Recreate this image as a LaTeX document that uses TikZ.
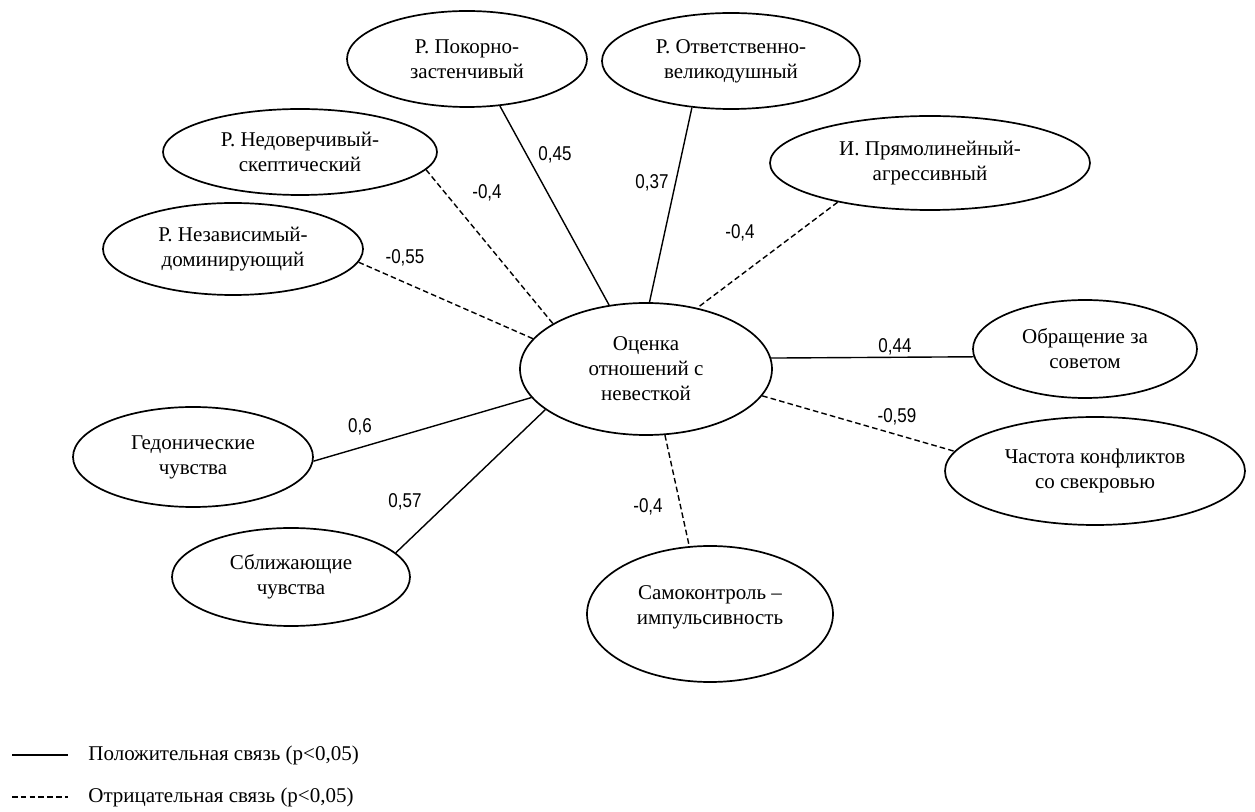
\documentclass[tikz,border=0pt]{standalone}
\usepackage{fontspec}
\setmainfont{Liberation Serif}
\newfontfamily\labfont[FakeStretch=0.85]{Liberation Sans}
\usetikzlibrary{shapes.geometric}
\begin{document}
\begin{tikzpicture}[x=0.5pt,y=-0.5pt,
  oval/.style={draw, ellipse, line width=0.85pt, inner sep=0pt, align=center,
    font=\fontsize{10.5}{12.5}\selectfont},
  txt/.style={inner sep=0pt, align=center, font=\fontsize{10.5}{12.5}\selectfont},
  posline/.style={line width=0.7pt},
  negline/.style={line width=0.7pt, dash pattern=on 2.8pt off 1.6pt},
  lab/.style={inner sep=0pt, font=\labfont\fontsize{10}{11}\selectfont},
  legtext/.style={inner sep=0pt, anchor=west, font=\fontsize{10.5}{12.5}\selectfont}]
\useasboundingbox (0,0) rectangle (1255,812);

% nodes
\node[oval, minimum width=120pt, minimum height=48pt] (P) at (467,59) {Р. Покорно-\\застенчивый};
\node[oval, minimum width=129pt, minimum height=48pt] (O) at (731,61) {Р. Ответственно-\\великодушный};
\node[oval, minimum width=137pt, minimum height=43pt] (N) at (300,152) {Р. Недоверчивый-\\скептический};
\node[oval, minimum width=130pt, minimum height=46pt] (D) at (233,249) {Р. Независимый-\\доминирующий};
\node[oval, minimum width=160pt, minimum height=47pt] (I) at (930,163) {И. Прямолинейный-\\агрессивный};
\node[oval, minimum width=126pt, minimum height=66pt] (C) at (646,369) {Оценка\\отношений с\\невесткой};
\node[oval, minimum width=112pt, minimum height=49pt] (A) at (1085,349) {Обращение за\\советом};
\node[oval, minimum width=150pt, minimum height=54pt] (F) at (1095,471) {Частота конфликтов\\со свекровью};
\node[oval, minimum width=123pt, minimum height=68pt] (S) at (710,614) {};
\node[txt] (St) at (710,607) {Самоконтроль –\\импульсивность};
\node[oval, minimum width=120pt, minimum height=50pt] (G) at (193,457) {Гедонические\\чувства};
\node[oval, minimum width=119pt, minimum height=49pt] (B) at (291,577) {Сближающие\\чувства};

% connectors
\draw[posline] (P.-55) -- (C.120);
\draw[posline] (O.-130) -- (C.87);
\draw[negline] (I.-157) -- (C.50);
\draw[negline] (N.-8) -- (C.154);
\draw[negline] (D.-6) -- (C.165);
\draw[posline] (C.5) -- (A.184);
\draw[negline] (C.-13) -- (F.172);
\draw[negline] (C.-74) -- (S.107);
\draw[posline] (G.-2) -- (C.194);
\draw[posline] (B.13) -- (C.202);

% labels
\node[lab] (l1) at (555,155) {0,45};
\node[lab] (l2) at (652,183) {0,37};
\node[lab] (l3) at (740,233) {-0,4};
\node[lab] (l4) at (487,193) {-0,4};
\node[lab] (l5) at (405,258) {-0,55};
\node[lab] (l6) at (895,347) {0,44};
\node[lab] (l7) at (897,417) {-0,59};
\node[lab] (l8) at (648,507) {-0,4};
\node[lab] (l9) at (360,427) {0,6};
\node[lab] (l10) at (405,502) {0,57};

% legend
\coordinate (la1) at (12,755);
\coordinate (lb1) at (68,755);
\draw[posline] (la1) -- (lb1);
\node[legtext] (lt1) at (88,755) {Положительная связь (p<0,05)};
\coordinate (la2) at (12,797);
\coordinate (lb2) at (68,797);
\draw[negline] (la2) -- (lb2);
\node[legtext] (lt2) at (88,797) {Отрицательная связь (p<0,05)};
\end{tikzpicture}
\end{document}
